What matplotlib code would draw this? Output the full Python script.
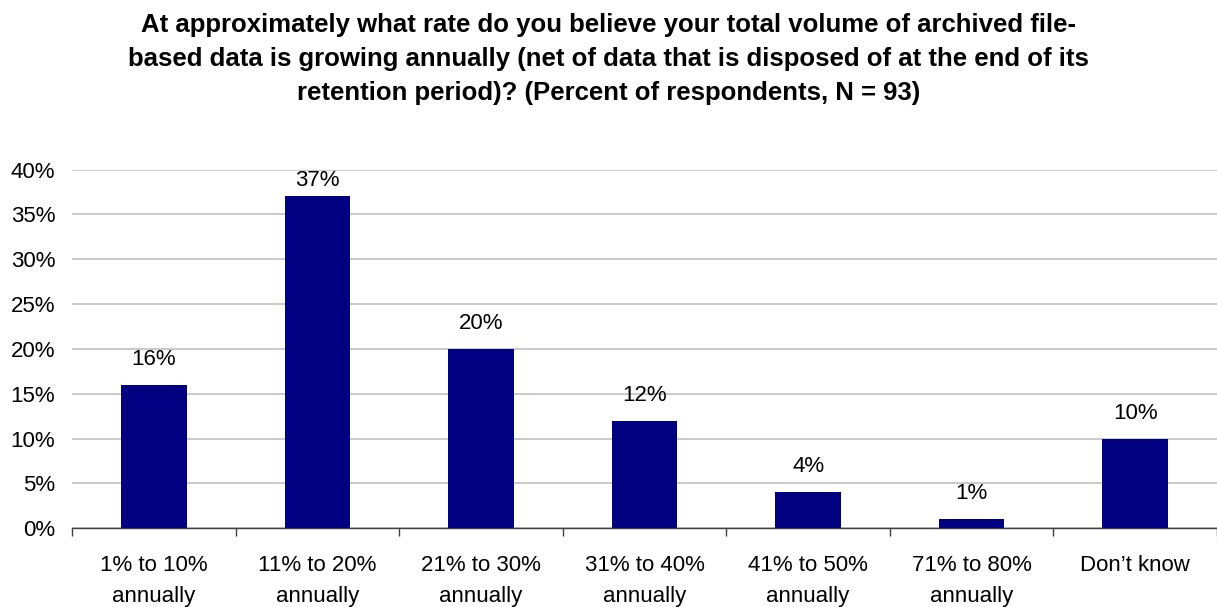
import matplotlib
matplotlib.use("Agg")
import matplotlib.pyplot as plt

categories = ["1% to 10%\nannually", "11% to 20%\nannually", "21% to 30%\nannually",
              "31% to 40%\nannually", "41% to 50%\nannually", "71% to 80%\nannually",
              "Don\u2019t know"]
values = [16, 37, 20, 12, 4, 1, 10]
yticks = [0, 5, 10, 15, 20, 25, 30, 35, 40]
title = ("At approximately what rate do you believe your total volume of archived file-\n"
         "based data is growing annually (net of data that is disposed of at the end of its\n"
         "retention period)? (Percent of respondents, N = 93)")

plt.rcParams['font.family'] = ['Liberation Sans', 'DejaVu Sans']

W, H = 1217, 607
fig = plt.figure(figsize=(W / 100, H / 100), dpi=100)
left, right = 72, 1217
bottom, top = 528.3, 169.5
ax = fig.add_axes([left / W, 1 - bottom / H, (right - left) / W, (bottom - top) / H])

x = list(range(len(categories)))
ax.bar(x, values, width=0.40, color="#000080", zorder=3)
ax.set_ylim(0, 40)
px_per_unit = (bottom - top) / 40.0
label_gap = 20 / px_per_unit
cap_h = 16.5 / px_per_unit
for xi, v in zip(x, values):
    ly = min(v + label_gap, 40 - cap_h)
    ax.text(xi, ly, f"{v}%", ha="center", va="baseline", fontsize=16, color="black")

cat_w = 164.5
ax.set_xlim(-0.5, -0.5 + (right - left) / cat_w)
ax.set_yticks(yticks)
ax.set_yticklabels([f"{t}%" for t in yticks], fontsize=16)
ax.yaxis.grid(True, color="#c0c0c0", linewidth=1.2, zorder=0)
ax.tick_params(axis="y", length=0, pad=12)

ax.set_xticks(x)
ax.set_xticklabels(categories, fontsize=16, linespacing=1.62)
ax.set_xticks([i - 0.5 for i in range(len(categories) + 1)], minor=True)
ax.tick_params(axis="x", which="major", length=0, pad=19)
ax.tick_params(axis="x", which="minor", length=6, width=1, color="#404040")

for s in ["top", "right", "left"]:
    ax.spines[s].set_visible(False)
ax.spines["bottom"].set_color("#404040")
ax.spines["bottom"].set_linewidth(1)
ax.set_axisbelow(True)

fig.text(0.5, 1 - 59 / H, title, ha="center", va="center", fontsize=18.5,
         fontweight="bold", linespacing=1.53)

fig.savefig("out.png", dpi=100)
